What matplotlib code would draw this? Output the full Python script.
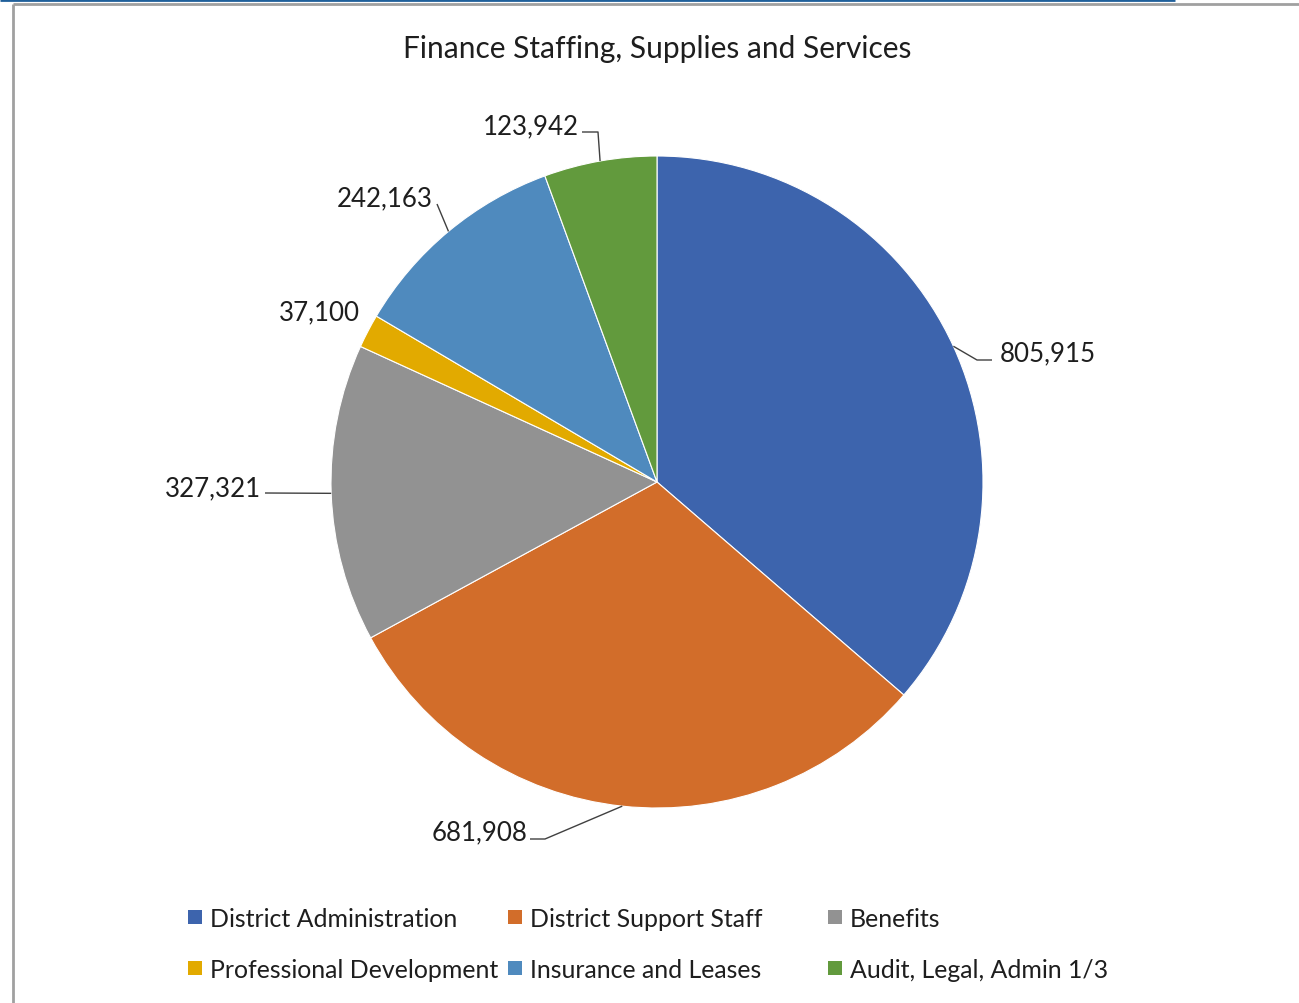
import matplotlib
matplotlib.use("Agg")
import matplotlib.pyplot as plt
from matplotlib.patches import Rectangle
import numpy as np

categories = ["District Administration", "District Support Staff", "Benefits",
              "Professional Development", "Insurance and Leases", "Audit, Legal, Admin 1/3"]
values = [805915, 681908, 327321, 37100, 242163, 123942]
value_labels = ["805,915", "681,908", "327,321", "37,100", "242,163", "123,942"]
colors = ["#3D64AD", "#D26D2A", "#929292", "#E2AA00", "#4F8ABE", "#629A3D"]
title = "Finance Staffing, Supplies and Services"

W, H = 1299, 1004
plt.rcParams['font.family'] = ['Lato', 'DejaVu Sans']
fig = plt.figure(figsize=(W / 100, H / 100), dpi=100)
ax = fig.add_axes([0, 0, 1, 1])
ax.set_xlim(0, W)
ax.set_ylim(0, H)
ax.axis('off')

def Y(y):
    return H - y

TXT = '#1E1E1E'
cx, cy, R = 657, Y(483), 326
wedges, _ = ax.pie(values, colors=colors, startangle=90, counterclock=False,
                   center=(cx, cy), radius=R,
                   wedgeprops=dict(edgecolor='white', linewidth=0.8))
ax.set_xlim(0, W)
ax.set_ylim(0, H)
ax.set_aspect('auto')

# label placement (pixel coords, style only)
label_pos = [(1000, 354, 'left'), (528, 833, 'right'), (261, 489, 'right'),
             (360, 313, 'right'), (433, 199, 'right'), (579, 127, 'right')]
elbows = [[(977, 361), (992, 361)],
          [(545, 840), (530, 840)],
          [(265, 494)],
          None,
          [(437, 205)],
          [(598, 133), (582, 133)]]

for w, (lx, ly, ha), lab, el in zip(wedges, label_pos, value_labels, elbows):
    mid = np.deg2rad((w.theta1 + w.theta2) / 2)
    ex = cx + R * np.cos(mid)
    ey = cy + R * np.sin(mid)
    if el is not None:
        xs = [ex] + [p[0] for p in el]
        ys = [ey] + [Y(p[1]) for p in el]
        ax.plot(xs, ys, color='#404040', lw=1.0, solid_capstyle='butt')
    ax.text(lx, Y(ly), lab, ha=ha, va='center', fontsize=18.6, color=TXT)

ax.text(657, Y(49), title, ha='center', va='center', fontsize=21.5, color=TXT)

# legend (manual, Excel-like uniform columns)
leg_x = [188, 508, 828]
leg_y = [918, 969]
order = [(0, 0, 0), (1, 1, 0), (2, 2, 0), (3, 0, 1), (4, 1, 1), (5, 2, 1)]
for i, c, r in order:
    x0, y0 = leg_x[c], leg_y[r]
    ax.add_patch(Rectangle((x0, Y(y0) - 7), 14, 14, facecolor=colors[i], edgecolor='none'))
    ax.text(x0 + 22, Y(y0 + 2), categories[i], ha='left', va='center', fontsize=17.9, color=TXT)

# frame lines
ax.plot([0, 1175], [Y(0.8), Y(0.8)], color='#1F5F9A', lw=2.0, solid_capstyle='butt')
ax.plot([13, 13], [Y(5), 0], color='#A0A0A0', lw=2.0, solid_capstyle='butt')
ax.plot([13, W + 5], [Y(5), Y(5)], color='#A0A0A0', lw=2.0, solid_capstyle='butt')

fig.savefig("out.png", dpi=100)
